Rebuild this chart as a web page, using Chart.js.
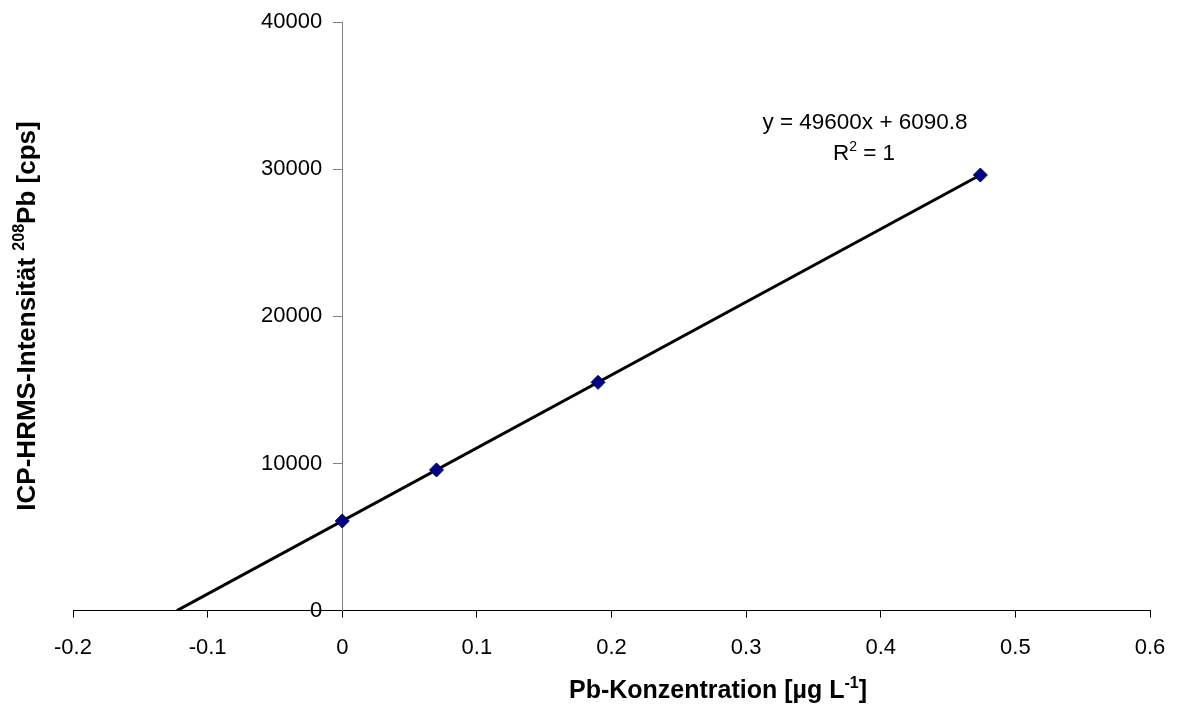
<!DOCTYPE html>
<html>
<head>
<meta charset="utf-8">
<script src="https://cdn.jsdelivr.net/npm/chart.js@4/dist/chart.umd.min.js"></script>
<style>
  html, body { margin: 0; padding: 0; background: #fff; }
  #wrap { width: 1177px; height: 708px; }
</style>
</head>
<body>
<div id="wrap"><canvas id="chart"></canvas></div>
<script>
// Pb calibration standards: concentration [µg/L] and measured intensity [cps]
const concentrations = [0, 0.07, 0.19, 0.474];
const intensities = [6090, 9560, 15510, 29600];

// linear trendline from the fit
const slope = 49600;
const intercept = 6090.8;
const rSquared = 1;

const xTicks = [-0.2, -0.1, 0, 0.1, 0.2, 0.3, 0.4, 0.5, 0.6];
const yTicks = [0, 10000, 20000, 30000, 40000];

const FONT = "'Liberation Sans', Arial, sans-serif";
const Y_TICK_LEN = 9;
const Y_TICK_PAD = 11;

const points = concentrations.map((c, i) => ({ x: c, y: intensities[i] }));
const lastX = concentrations[concentrations.length - 1];
const trend = [
    { x: -intercept / slope, y: 0 },
    { x: lastX, y: slope * lastX + intercept }
];

/**
 * Draws a run of text pieces, some raised as superscripts, centred on (cx, cy).
 * @param {CanvasRenderingContext2D} ctx
 * @param {Array} parts  [text, isSuperscript]
 */
function drawRich(ctx, parts, cx, cy, size, weight, rotate) {
    ctx.save();
    ctx.translate(cx, cy);
    if (rotate) ctx.rotate(-Math.PI / 2);
    ctx.textBaseline = "alphabetic";
    ctx.textAlign = "left";
    ctx.fillStyle = "#000";
    const supSize = Math.round(size * 0.62);
    let total = 0;
    parts.forEach(([t, sup]) => {
        ctx.font = weight + " " + (sup ? supSize : size) + "px " + FONT;
        total += ctx.measureText(t).width;
    });
    let x = -total / 2;
    const base = size * 0.36;
    parts.forEach(([t, sup]) => {
        ctx.font = weight + " " + (sup ? supSize : size) + "px " + FONT;
        ctx.fillText(t, x, sup ? base - size * 0.42 : base);
        x += ctx.measureText(t).width;
    });
    ctx.restore();
}

const labelsPlugin = {
    id: "labels",
    afterDraw(chart) {
        const ctx = chart.ctx;
        const xs = chart.scales.x;
        const ys = chart.scales.y;

        // y tick labels sit left of the axis that crosses at x = 0
        const axisX = xs.getPixelForValue(0);
        ctx.save();
        ctx.font = "22px " + FONT;
        ctx.fillStyle = "#000";
        ctx.textAlign = "right";
        ctx.textBaseline = "middle";
        yTicks.forEach(v => {
            ctx.fillText(String(v), axisX - Y_TICK_LEN - Y_TICK_PAD, ys.getPixelForValue(v));
        });
        ctx.restore();

        drawRich(ctx, [["Pb-Konzentration [µg L", false], ["-1", true], ["]", false]],
            718, 689, 25, "bold", false);
        drawRich(ctx, [["ICP-HRMS-Intensität ", false], ["208", true], ["Pb [cps]", false]],
            25.5, 316, 26, "bold", true);
        drawRich(ctx, [["y = " + slope + "x + " + intercept, false]], 865, 121, 22.5, "normal", false);
        drawRich(ctx, [["R", false], ["2", true], [" = " + rSquared, false]], 864, 152, 22.5, "normal", false);
    }
};

const c = document.getElementById("chart");
new Chart(c, {
    type: "scatter",
    data: {
        datasets: [{
            label: "Standards",
            data: points,
            pointStyle: "rectRot",
            pointRadius: 7,
            pointBackgroundColor: "#000080",
            pointBorderColor: "#000066",
            pointBorderWidth: 1
        }, {
            label: "Trendline",
            data: trend,
            showLine: true,
            pointRadius: 0,
            borderColor: "#000",
            borderWidth: 3
        }]
    },
    options: {
        responsive: true,
        maintainAspectRatio: false,
        animation: false,
        layout: { padding: { left: 73, right: 27, top: 22, bottom: 30 } },
        plugins: {
            legend: { display: false },
            tooltip: { enabled: false }
        },
        scales: {
            x: {
                type: "linear",
                min: -0.2,
                max: 0.6,
                afterBuildTicks: (s) => { s.ticks = xTicks.map(v => ({ value: v })); },
                // the outer labels fit inside the layout padding already
                afterFit: (s) => { s.paddingLeft = 0; s.paddingRight = 0; },
                grid: { drawOnChartArea: false, drawTicks: true, tickLength: 7, color: "#000" },
                border: { display: true, color: "#000", width: 1 },
                ticks: {
                    color: "#000",
                    padding: 17,
                    maxRotation: 0,
                    font: { family: FONT, size: 22 },
                    callback: (v) => String(Math.round(v * 10) / 10)
                }
            },
            y: {
                type: "linear",
                position: { x: 0 },
                min: 0,
                max: 40000,
                afterBuildTicks: (s) => { s.ticks = yTicks.map(v => ({ value: v })); },
                grid: { drawOnChartArea: false, drawTicks: true, tickLength: Y_TICK_LEN, color: "#808080" },
                border: { display: true, color: "#808080", width: 1 },
                ticks: { display: false }
            }
        }
    },
    plugins: [labelsPlugin]
});
</script>
</body>
</html>
